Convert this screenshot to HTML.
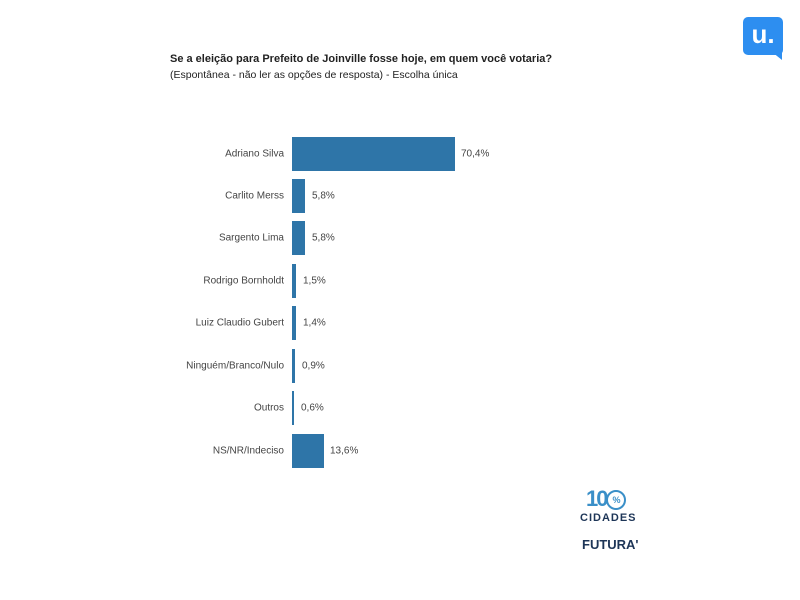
<!DOCTYPE html>
<html><head><meta charset="utf-8"><style>
body{margin:0;width:800px;height:600px;background:#fff;font-family:"Liberation Sans",sans-serif;position:relative;overflow:hidden}
.t{position:absolute;left:170px;font-size:11px;color:#222;white-space:nowrap}
.lab{position:absolute;right:516px;font-size:10px;color:#444;white-space:nowrap;transform:translateY(-50%)}
.bar{position:absolute;left:292px;height:34px;background:#2e75a8;transform:translateY(-50%)}
.val{position:absolute;font-size:10px;color:#444;transform:translateY(-50%)}
</style></head><body>
<div class="t" style="top:53px;font-weight:bold">Se a eleição para Prefeito de Joinville fosse hoje, em quem você votaria?</div>
<div class="t" style="top:69px;font-size:10.5px">(Espontânea - não ler as opções de resposta) - Escolha única</div>
<div style="position:absolute;left:743px;top:17px;width:40px;height:38px;background:#2d8ef0;border-radius:5px;color:#fff;font-weight:bold;font-size:26px;text-align:center;line-height:34px">u.</div>
<div style="position:absolute;left:772px;top:52px;width:0;height:0;border-left:10px solid transparent;border-top:8px solid #2d8ef0"></div>

<div class="lab" style="top:154px">Adriano Silva</div><div class="bar" style="top:154px;width:163px"></div><div class="val" style="top:154px;left:461px">70,4%</div>
<div class="lab" style="top:196px">Carlito Merss</div><div class="bar" style="top:196px;width:13px"></div><div class="val" style="top:196px;left:312px">5,8%</div>
<div class="lab" style="top:238px">Sargento Lima</div><div class="bar" style="top:238px;width:13px"></div><div class="val" style="top:238px;left:312px">5,8%</div>
<div class="lab" style="top:281px">Rodrigo Bornholdt</div><div class="bar" style="top:281px;width:4px"></div><div class="val" style="top:281px;left:303px">1,5%</div>
<div class="lab" style="top:323px">Luiz Claudio Gubert</div><div class="bar" style="top:323px;width:4px"></div><div class="val" style="top:323px;left:303px">1,4%</div>
<div class="lab" style="top:366px">Ninguém/Branco/Nulo</div><div class="bar" style="top:366px;width:3px"></div><div class="val" style="top:366px;left:302px">0,9%</div>
<div class="lab" style="top:408px">Outros</div><div class="bar" style="top:408px;width:2px"></div><div class="val" style="top:408px;left:301px">0,6%</div>
<div class="lab" style="top:451px">NS/NR/Indeciso</div><div class="bar" style="top:451px;width:32px"></div><div class="val" style="top:451px;left:330px">13,6%</div>

<div style="position:absolute;left:586px;top:486px;font-size:22px;font-weight:bold;color:#3a8fc8;letter-spacing:-2px">10<span style="display:inline-block;width:16px;height:16px;border:2px solid #3a8fc8;border-radius:50%;font-size:9px;text-align:center;line-height:16px;letter-spacing:0;vertical-align:3px">%</span></div>
<div style="position:absolute;left:580px;top:512px;font-size:11px;font-weight:bold;color:#1d3557;letter-spacing:1px">CIDADES</div>
<div style="position:absolute;left:582px;top:537px;font-size:13px;font-weight:bold;color:#1d3557">FUTURA'</div>
</body></html>
